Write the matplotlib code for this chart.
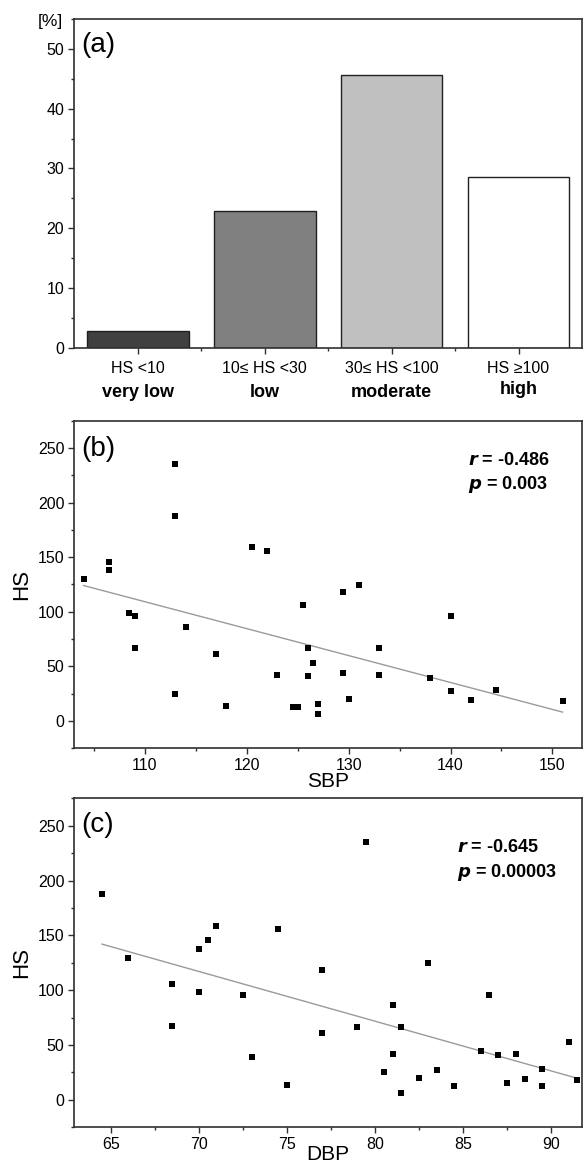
import numpy as np
import matplotlib
matplotlib.use("Agg")
import matplotlib.pyplot as plt
from matplotlib.ticker import MultipleLocator, FixedLocator

plt.rcParams['font.family'] = ['Liberation Sans', 'DejaVu Sans']

# (a) share of patients per HS class
hs_classes = ["HS <10", "10\u2264 HS <30", "30\u2264 HS <100", "HS \u2265100"]
hs_names = ["very low", "low", "moderate", "high"]
hs_share = [2.86, 22.86, 45.71, 28.57]
bar_colors = ["#404040", "#808080", "#c0c0c0", "#ffffff"]

# (b) SBP vs HS
sbp = [104, 106.5, 106.5, 113, 113, 120.5, 122, 129.5, 131, 108.5, 109, 109,
       113, 114, 117, 118, 123, 124.5, 125, 125.5, 126, 126, 126.5, 127, 127,
       129.5, 130, 133, 133, 138, 140, 140, 142, 144.5, 151]
hs_b = [130, 146, 138, 235, 188, 159.5, 156, 118.5, 124.5, 98.7, 96, 67.3,
        25, 86, 61.5, 14, 42, 12.8, 12.8, 106, 66.7, 40.8, 53, 15.5, 6.4,
        44.4, 20, 66.7, 41.7, 39, 96, 27.7, 18.8, 28.6, 18]

# (c) DBP vs HS
dbp = [64.5, 66, 70, 70.5, 71, 74.5, 79.5, 77, 83, 68.5, 68.5, 70, 72.5, 73,
       75, 77, 79, 80.5, 81, 81, 81.5, 81.5, 82.5, 83.5, 84.5, 86, 86.5, 87,
       87.5, 88, 88.5, 89.5, 89.5, 91, 91.5]
hs_c = [188, 129.4, 137.4, 146, 159, 156, 235, 118, 124.6, 105.7, 67.5, 98.7,
        96, 39, 14, 61.4, 66.8, 25.2, 86.3, 42.2, 66.8, 6.4, 20.3, 27.6, 13,
        44.4, 96, 40.7, 15.5, 41.9, 19.1, 28.3, 13, 53.2, 18]

fig = plt.figure(figsize=(5.83, 11.65), dpi=100)
W, H = 583.0, 1165.0


def box(x0, y0, x1, y1):
    # pixel box (top-left origin) -> figure fraction
    return [x0 / W, 1 - y1 / H, (x1 - x0) / W, (y1 - y0) / H]


def style(ax):
    for s in ax.spines.values():
        s.set_linewidth(1.2)
        s.set_color("#303030")
    ax.tick_params(which='both', direction='out', top=False, right=False,
                   labelsize=11.5, color="#303030", width=1)
    ax.tick_params(which='major', length=4.3, pad=3)
    ax.tick_params(which='minor', length=2.5)


# ---- (a) ----
ax1 = fig.add_axes(box(74.4, 19, 582, 347.7))
x = np.arange(len(hs_share))
ax1.bar(x, hs_share, width=0.8, color=bar_colors, edgecolor="#202020", linewidth=1)
ax1.set_xlim(-0.5, 3.5)
ax1.set_ylim(0, 55)
ax1.yaxis.set_major_locator(MultipleLocator(10))
ax1.yaxis.set_minor_locator(MultipleLocator(5))
ax1.set_xticks(x)
ax1.set_xticklabels(hs_classes)
ax1.xaxis.set_minor_locator(FixedLocator([0.5, 1.5, 2.5]))
style(ax1)
ax1.tick_params(axis='x', which='major', pad=5)
ax1.text(0.0138, 0.921, "(a)", transform=ax1.transAxes, fontsize=20, va='center', ha='left')
ax1.text(-0.022, 0.992, "[%]", transform=ax1.transAxes, fontsize=12.5, ha='right', va='center')
for i, name in enumerate(hs_names):
    yoff = -0.137 if name != "high" else -0.127
    ax1.text(i, yoff, name, transform=ax1.get_xaxis_transform(), ha='center', va='center',
             fontsize=13, fontweight='bold')


def scatter_panel(ax, xs, ys, label, xlab, r_txt, p_txt, txt_pos, lab_y, xpad):
    ax.scatter(xs, ys, marker='s', s=25, color='black', zorder=3, linewidths=0)
    k, b = np.polyfit(xs, ys, 1)
    xl = np.array([min(xs), max(xs)])
    ax.plot(xl, k * xl + b, color="#9a9a9a", linewidth=1, zorder=2)
    ax.set_ylim(-25, 275)
    ax.yaxis.set_major_locator(MultipleLocator(50))
    ax.yaxis.set_minor_locator(MultipleLocator(25))
    style(ax)
    ax.set_ylabel("HS", fontsize=16, labelpad=4)
    ax.set_xlabel(xlab, fontsize=15, labelpad=xpad)
    ax.text(0.0138, lab_y, label, transform=ax.transAxes, fontsize=20, va='center', ha='left')
    ax.text(txt_pos[0], txt_pos[1], r_txt, transform=ax.transAxes, fontsize=13,
            fontweight='bold', ha='left', va='center')
    ax.text(txt_pos[0], txt_pos[1] - 0.076, p_txt, transform=ax.transAxes, fontsize=13,
            fontweight='bold', ha='left', va='center')


# ---- (b) ----
ax2 = fig.add_axes(box(74.4, 420.7, 582, 748.3))
ax2.set_xlim(103.1, 152.9)
ax2.xaxis.set_major_locator(MultipleLocator(10))
ax2.xaxis.set_minor_locator(MultipleLocator(5))
scatter_panel(ax2, sbp, hs_b, "(b)", "SBP", r"$\bfit{r}$ = -0.486", r"$\bfit{p}$ = 0.003",
              (0.776, 0.880), 0.9145, -1)

# ---- (c) ----
ax3 = fig.add_axes(box(74.4, 798.3, 582, 1127.3))
ax3.set_xlim(62.93, 91.76)
ax3.xaxis.set_major_locator(MultipleLocator(5))
ax3.xaxis.set_minor_locator(MultipleLocator(2.5))
scatter_panel(ax3, dbp, hs_c, "(c)", "DBP", r"$\bfit{r}$ = -0.645", r"$\bfit{p}$ = 0.00003",
              (0.753, 0.850), 0.919, -5)

fig.savefig("out.png", dpi=100)
